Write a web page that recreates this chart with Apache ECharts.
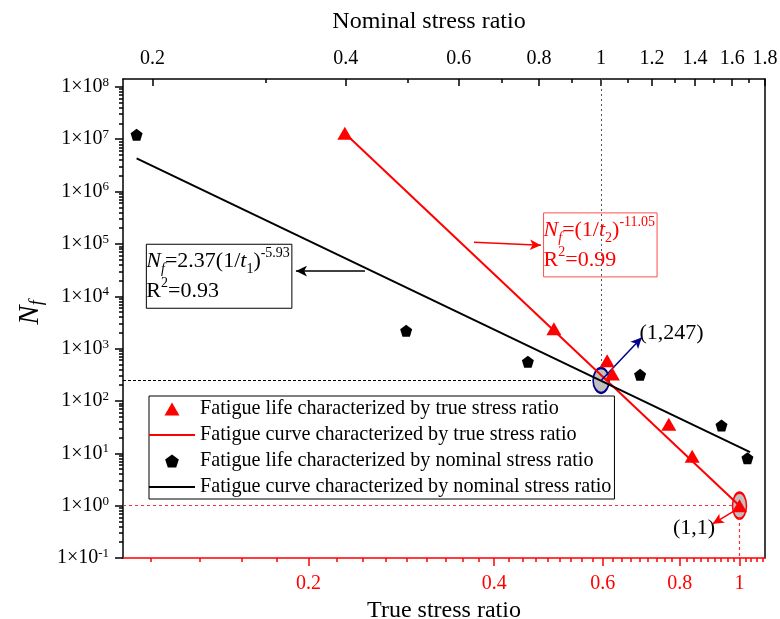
<!DOCTYPE html>
<html><head><meta charset="utf-8">
<script src="https://cdn.jsdelivr.net/npm/echarts@6/dist/echarts.min.js"></script>
<style>html,body{margin:0;padding:0;background:#fff}#c{width:780px;height:619px}</style>
</head><body><div id="c"></div>
<script>
// ---------------- data ----------------
const trueRatio    = [0.229, 0.50, 0.61, 0.622, 0.768, 0.838, 1.0];
const trueLife     = [1.3e7, 2390, 589, 329, 35.7, 8.8, 1.0];
const nominalRatio = [0.189, 0.497, 0.769, 1.15, 1.54, 1.69];
const nominalLife  = [1.22e7, 2190, 562, 315, 34, 8.07];
const trueFitRatio    = [0.229, 1.0];
const trueFitLife     = [1.3e7, 1.0];
const nominalFitRatio = [0.189, 1.706];
const nominalFitLife  = [4.3e6, 10.5];
const trueTicks    = [0.2, 0.4, 0.6, 0.8, 1];
const nominalTicks = [0.2, 0.4, 0.6, 0.8, 1, 1.2, 1.4, 1.6, 1.8];
const nominalMinor = [0.3, 0.5, 0.7, 0.9, 1.1, 1.3, 1.5, 1.7];
const lifeExps     = [-1, 0, 1, 2, 3, 4, 5, 6, 7, 8];
const names = [
  'Fatigue life characterized by true stress ratio',
  'Fatigue curve characterized by true stress ratio',
  'Fatigue life characterized by nominal stress ratio',
  'Fatigue curve characterized by nominal stress ratio'
];

// ---------------- helpers ----------------
const L = Math.log10;
const FONT = "'Times New Roman','Liberation Serif','DejaVu Serif',serif";
const pts = (xs, ys) => xs.map((x, i) => [L(x), L(ys[i])]);
const fmtRatio = v => String(Math.round(Math.pow(10, v) * 10) / 10);
const trueMinor = [];
for (let i = 0; i < 6; i++) for (let k = 1; k <= 8; k++) {
  const v = i * 0.2 + k * 0.2 / 9;
  if (v > 0.1 && v < 1.1) trueMinor.push(L(v));
}
const lifeMinor = [];
for (let n = -1; n <= 7; n++) for (let k = 2; k <= 9; k++) lifeMinor.push(n + L(k));

const X_T = [L(0.1), L(1.1)];
const X_N = [L(0.18), L(1.8)];
const Y_R = [-1, 8.15];

const triPath  = 'path://M50,0 L100,86.6 L0,86.6 Z';
const pentPath = 'path://M50,0 L97.55,34.55 L79.39,90.45 L20.61,90.45 L2.45,34.55 Z';
const ellPath  = 'path://M50,0 C77.6,0 100,22.4 100,50 C100,77.6 77.6,100 50,100 C22.4,100 0,77.6 0,50 C0,22.4 22.4,0 50,0 Z';
const barPath  = 'path://M0,0 L230,0 L230,10 L0,10 Z';

function richSet(color) {
  return {
    i:   {fontFamily: FONT, fontStyle: 'italic', fontSize: 22, color, lineHeight: 30},
    n:   {fontFamily: FONT, fontSize: 22, color, lineHeight: 30},
    sbi: {fontFamily: FONT, fontStyle: 'italic', fontSize: 14, color, verticalAlign: 'bottom', lineHeight: 18},
    sb:  {fontFamily: FONT, fontSize: 14, color, verticalAlign: 'bottom', lineHeight: 18},
    sp:  {fontFamily: FONT, fontSize: 14, color, verticalAlign: 'top', lineHeight: 16}
  };
}
const arrowEnd = {symbol: 'arrow', symbolSize: [8, 11]};

const chart = echarts.init(document.getElementById('c'));
chart.setOption({
  animation: false,
  backgroundColor: '#fff',
  grid: {left: 123, right: 15, top: 79, bottom: 61, containLabel: false, outerBoundsMode: 'none'},
  legend: {
    orient: 'vertical', left: 149, top: 396,
    itemWidth: 46, itemHeight: 13, itemGap: 6,
    padding: [3, 3, 2, 0],
    borderColor: '#000', borderWidth: 1,
    selectedMode: false, symbolKeepAspect: true,
    textStyle: {fontFamily: FONT, fontSize: 20.2, color: '#000', lineHeight: 19},
    data: [
      {name: names[0], icon: triPath},
      {name: names[1], icon: barPath},
      {name: names[2], icon: pentPath},
      {name: names[3], icon: barPath}
    ]
  },
  xAxis: [
    { // bottom: true stress ratio
      type: 'value', position: 'bottom', min: X_T[0], max: X_T[1],
      name: 'True stress ratio', nameLocation: 'middle', nameGap: 40,
      nameTextStyle: {fontFamily: FONT, fontSize: 24, color: '#000'},
      axisLine: {show: true, onZero: false, lineStyle: {color: '#f00', width: 1.5}},
      axisTick: {show: true, length: 8, customValues: trueTicks.map(L), lineStyle: {color: '#f00', width: 1.5}},
      axisLabel: {show: true, customValues: trueTicks.map(L), formatter: fmtRatio, margin: 16,
                  color: '#f00', fontFamily: FONT, fontSize: 20},
      splitLine: {show: false}
    },
    { // bottom minor ticks
      type: 'value', position: 'bottom', min: X_T[0], max: X_T[1],
      axisLine: {show: false, onZero: false},
      axisTick: {show: true, length: 4, customValues: trueMinor, lineStyle: {color: '#f00', width: 1.5}},
      axisLabel: {show: false}, splitLine: {show: false}
    },
    { // top: nominal stress ratio
      type: 'value', position: 'top', min: X_N[0], max: X_N[1],
      name: 'Nominal stress ratio', nameLocation: 'middle', nameGap: 45,
      nameTextStyle: {fontFamily: FONT, fontSize: 24, color: '#000', padding: [0, 30, 0, 0]},
      axisLine: {show: true, onZero: false, lineStyle: {color: '#000', width: 1.5}},
      axisTick: {show: true, inside: true, length: 7, customValues: nominalTicks.map(L), lineStyle: {color: '#000', width: 1.5}},
      axisLabel: {show: true, customValues: nominalTicks.map(L), formatter: fmtRatio, margin: 10,
                  color: '#000', fontFamily: FONT, fontSize: 20},
      splitLine: {show: false}
    },
    { // top minor ticks
      type: 'value', position: 'top', min: X_N[0], max: X_N[1],
      axisLine: {show: false, onZero: false},
      axisTick: {show: true, inside: true, length: 4, customValues: nominalMinor.map(L), lineStyle: {color: '#000', width: 1.5}},
      axisLabel: {show: false}, splitLine: {show: false}
    }
  ],
  yAxis: [
    {
      type: 'value', position: 'left', min: Y_R[0], max: Y_R[1],
      name: '{i|N}{s|f}', nameLocation: 'middle', nameGap: 75, nameRotate: 90,
      nameTextStyle: {padding: [0, 0, 0, 12], rich: {
        i: {fontFamily: FONT, fontStyle: 'italic', fontSize: 29, color: '#000', lineHeight: 32},
        s: {fontFamily: FONT, fontStyle: 'italic', fontSize: 18, color: '#000', verticalAlign: 'bottom', lineHeight: 18}
      }},
      axisLine: {show: true, onZero: false, lineStyle: {color: '#000', width: 1.5}},
      axisTick: {show: true, length: 8, customValues: lifeExps, lineStyle: {color: '#000', width: 1.5}},
      axisLabel: {show: true, customValues: lifeExps, margin: 14,
        formatter: v => '{n|1×10}{s|' + Math.round(v) + '}',
        rich: {
          n: {fontFamily: FONT, fontSize: 20, color: '#000', lineHeight: 22},
          s: {fontFamily: FONT, fontSize: 13, color: '#000', verticalAlign: 'top', lineHeight: 12}
        }},
      splitLine: {show: false}
    },
    { // left minor ticks
      type: 'value', position: 'left', min: Y_R[0], max: Y_R[1],
      axisLine: {show: false, onZero: false},
      axisTick: {show: true, length: 4, customValues: lifeMinor, lineStyle: {color: '#000', width: 1.5}},
      axisLabel: {show: false}, splitLine: {show: false}
    },
    { // right frame line
      type: 'value', position: 'right', min: Y_R[0], max: Y_R[1],
      axisLine: {show: true, onZero: false, lineStyle: {color: '#000', width: 1.5}},
      axisTick: {show: false}, axisLabel: {show: false}, splitLine: {show: false}
    }
  ],
  series: [
    {
      name: names[0], type: 'scatter', xAxisIndex: 0, yAxisIndex: 0,
      data: pts(trueRatio, trueLife), symbol: 'triangle', symbolSize: [15, 13],
      itemStyle: {color: '#f00', opacity: 1}, z: 6
    },
    {
      name: names[1], type: 'line', xAxisIndex: 0, yAxisIndex: 0,
      data: pts(trueFitRatio, trueFitLife), symbol: 'none',
      lineStyle: {color: '#f00', width: 2}, itemStyle: {color: '#f00'}, z: 3,
      markLine: {
        silent: true, symbol: ['none', 'none'], label: {show: false}, z: 4,
        data: [
          [{coord: [L(0.1), 0], lineStyle: {color: '#ff3030', type: [3, 3], width: 1.2}}, {coord: [L(0.972), 0]}],
          [{coord: [0, L(0.61)], lineStyle: {color: '#ff3030', type: [3, 3], width: 1.2}}, {coord: [0, -1]}],
          [{coord: [L(0.9808), L(0.793)], lineStyle: {color: '#f00', type: 'solid', width: 1.5}},
           Object.assign({coord: [L(0.9048), L(0.449)]}, arrowEnd)],
          [{coord: [L(0.3709), L(1.077e5)], lineStyle: {color: '#f00', type: 'solid', width: 1.5}},
           Object.assign({coord: [L(0.4764), L(9.44e4)]}, arrowEnd)]
        ]
      },
      markPoint: {
        silent: true, z: 1,
        data: [
          {coord: [0, 0], symbol: ellPath, symbolSize: [14, 26],
           itemStyle: {color: '#c0c0c0', borderColor: '#f00', borderWidth: 2}, label: {show: false}},
          {coord: [L(0.593), L(95700)], symbol: 'rect', symbolSize: 1,
           itemStyle: {color: 'rgba(0,0,0,0)'},
           label: {show: true, position: 'inside', align: 'left',
             formatter: '{i|N}{sbi|f}{n|=(1/}{i|t}{sb|2}{n|)}{sp|-11.05}\n{n|R}{sp|2}{n|=0.99}',
             rich: richSet('#f00'), borderColor: '#ff4d4d', borderWidth: 1, padding: [2, 2, 2, 0], offset: [-56, 0]}},
          {coord: [L(0.8437), L(0.377)], symbol: 'rect', symbolSize: 1,
           itemStyle: {color: 'rgba(0,0,0,0)'},
           label: {show: true, position: 'inside', formatter: '(1,1)',
             fontFamily: FONT, fontSize: 22, color: '#000'}}
        ]
      }
    },
    {
      name: names[2], type: 'scatter', xAxisIndex: 2, yAxisIndex: 0,
      data: pts(nominalRatio, nominalLife), symbol: pentPath, symbolSize: 12,
      itemStyle: {color: '#000', opacity: 1}, z: 6
    },
    {
      name: names[3], type: 'line', xAxisIndex: 2, yAxisIndex: 0,
      data: pts(nominalFitRatio, nominalFitLife), symbol: 'none',
      lineStyle: {color: '#000', width: 2}, itemStyle: {color: '#000'}, z: 3,
      markLine: {
        silent: true, symbol: ['none', 'none'], label: {show: false}, z: 4,
        data: [
          [{coord: [0, Y_R[1]], lineStyle: {color: '#555', type: [2, 3], width: 1}}, {coord: [0, L(433)]}],
          [{coord: [L(0.18), L(247)], lineStyle: {color: '#000', type: [3, 2], width: 1}}, {coord: [L(0.9645), L(247)]}],
          [{coord: [0, L(247)], lineStyle: {color: '#00008b', type: 'solid', width: 1.5}},
           Object.assign({coord: [L(1.157), L(1633)]}, arrowEnd)],
          [{coord: [L(0.4287), L(30270)], lineStyle: {color: '#000', type: 'solid', width: 1.5}},
           Object.assign({coord: [L(0.3347), L(30270)]}, arrowEnd)]
        ]
      },
      markPoint: {
        silent: true, z: 1,
        data: [
          {coord: [0, L(247)], symbol: ellPath, symbolSize: [16, 25],
           itemStyle: {color: '#c0c0c0', borderColor: '#00008b', borderWidth: 2}, label: {show: false}},
          {coord: [L(0.2534), L(24100)], symbol: 'rect', symbolSize: 1,
           itemStyle: {color: 'rgba(0,0,0,0)'},
           label: {show: true, position: 'inside', align: 'left',
             formatter: '{i|N}{sbi|f}{n|=2.37(1/}{i|t}{sb|1}{n|)}{sp|-5.93}\n{n|R}{sp|2}{n|=0.93}',
             rich: richSet('#000'), borderColor: '#000', borderWidth: 1, padding: [2, 2, 2, 0], offset: [-72, 0]}},
          {coord: [L(1.287), L(2005)], symbol: 'rect', symbolSize: 1,
           itemStyle: {color: 'rgba(0,0,0,0)'},
           label: {show: true, position: 'inside', formatter: '(1,247)',
             fontFamily: FONT, fontSize: 22, color: '#000'}}
        ]
      }
    }
  ]
});
</script>
</body></html>
